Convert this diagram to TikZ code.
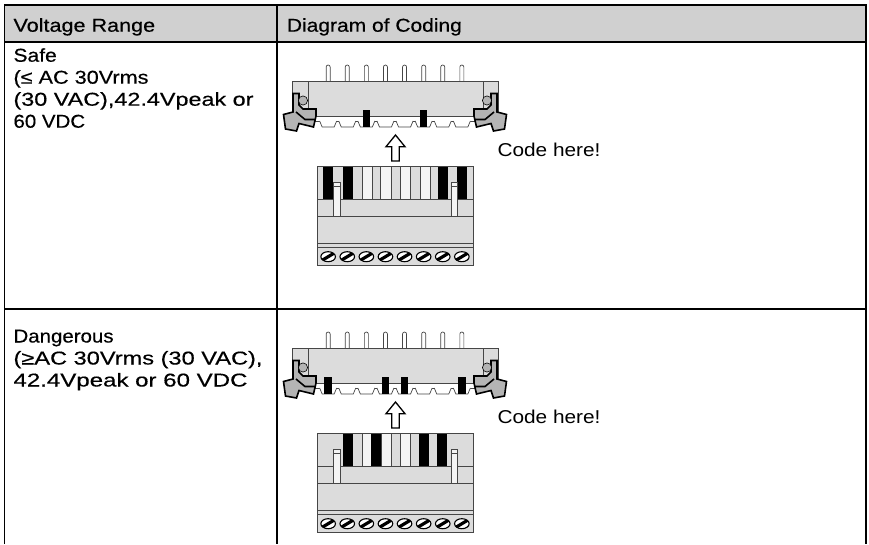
\documentclass[tikz,border=0pt]{standalone}
\usepackage{fontspec}
\usepackage{graphicx}
\setmainfont{Liberation Sans}[FakeStretch=1.1, FakeBold=0.4]
\newfontfamily\codefont{Liberation Sans}[FakeStretch=1.1]
\definecolor{hdr}{RGB}{208,208,208}
\definecolor{bodyc}{RGB}{220,220,220}
\definecolor{latchc}{RGB}{180,180,180}
\definecolor{slotw}{RGB}{244,244,244}
\definecolor{edge}{RGB}{70,70,70}
\newsavebox\fitbox
\newlength\fitlen
\newcommand\fitw[2]{\sbox\fitbox{#2}\setlength\fitlen{\wd\fitbox}\pgfmathsetmacro\fitsc{#1/\fitlen}\scalebox{\fitsc}[1]{\usebox\fitbox}}
\newcommand\latchshape{%
  \draw[fill=latchc, line width=1.6pt] (293,93.5) -- (299,93.5) -- (299,105) -- (303,109) -- (316,109) -- (316,116) -- (313.5,127) -- (299,123.5) -- (296.5,131) -- (285.5,129) -- (283.5,114.5) -- (293,112) -- cycle;
  \draw[line width=1.6pt] (296,112) -- (305,119.5) -- (315,119.5);
  \draw[fill=latchc, line width=0.6pt] (303,100.5) circle[radius=4.6pt];
}
\newcommand\socketbase{%
  \foreach \k in {0,...,7}{
    \pgfmathsetmacro\px{328.15+19.1*\k}
    \draw[edge, fill=white, line width=0.7pt] (\px-2,81.7) -- (\px-2,67) arc[start angle=180, end angle=0, radius=2pt] -- (\px+2,81.7);
  }
  \fill[bodyc] (292.5,81.7) rectangle (498.5,112);
  \draw[edge, line width=0.8pt] (292.5,112) -- (292.5,81.7) -- (498.5,81.7) -- (498.5,112);
  \draw[edge, fill=bodyc, line width=0.8pt] (308,81.7) rectangle (483,116.7);
  \draw[edge, fill=white, line width=0.8pt] (315,116.7) rectangle (476,121);
  \foreach \k in {0,...,7}{
    \pgfmathsetmacro\px{328.15+19.1*\k}
    \draw[edge, fill=white, line width=0.7pt] (\px-8.5,121) -- (\px-6,127) -- (\px+6,127) -- (\px+8.5,121);
  }
}
\newcommand\socketlatches{%
  \latchshape
  \begin{scope}[shift={(790,0)}, xscale=-1]\latchshape\end{scope}
}
\newcommand\codeblock[1]{%
  \pgfmathsetmacro\px{328.15+19.1*#1}
  \fill[black] (\px-3.7,110) rectangle (\px+3.7,127.3);
}
\newcommand\plugbase{%
  \draw[edge, fill=bodyc, line width=0.8pt] (317,166.5) rectangle (473,265);
}
\newcommand\plugrest{%
  \draw[edge, line width=0.8pt] (317,199.5) -- (473,199.5);
  \draw[edge, line width=0.8pt] (317,216) -- (473,216);
  \draw[edge, line width=0.8pt] (317,243) -- (473,243);
  \draw[edge, line width=0.8pt] (317,247.5) -- (473,247.5);
  \draw[edge, fill=slotw, line width=0.7pt] (333.3,182) rectangle (340.7,216);
  \draw[edge, line width=0.7pt] (333.3,186.5) -- (340.7,186.5);
  \draw[edge, fill=slotw, line width=0.7pt] (451,182) rectangle (457.5,216);
  \draw[edge, line width=0.7pt] (451,186.5) -- (457.5,186.5);
  \foreach \k in {0,...,7}{
    \pgfmathsetmacro\px{328.15+19.1*\k}
    \begin{scope}
      \clip (\px,256.7) ellipse[x radius=7.3pt, y radius=5pt];
      \fill[white] (\px-8,250) rectangle (\px+8,263);
      \draw[line width=3.2pt] (\px-8,261.5) -- (\px+8,251.9);
    \end{scope}
    \draw[line width=1.1pt] (\px,256.7) ellipse[x radius=7.3pt, y radius=5pt];
  }
}
\newcommand\blackslot[2]{\fill[black] (#1,166.5) rectangle (#2,199.5);}
\newcommand\whiteslot[2]{\draw[edge, fill=slotw, line width=0.7pt] (#1,166.5) rectangle (#2,199.5);}
\newcommand\plugarrow{%
  \draw[black, fill=white, line width=1.3pt] (395.5,135) -- (405,146.7) -- (399.3,146.7) -- (399.3,161) -- (391.7,161) -- (391.7,146.7) -- (386,146.7) -- cycle;
}
\begin{document}
\begin{tikzpicture}[x=1pt,y=-1pt,
  txt/.style={anchor=base west, inner sep=0pt, font=\fontsize{18.6}{22}\selectfont},
  codetxt/.style={anchor=base west, inner sep=0pt, font=\codefont\fontsize{18.6}{22}\selectfont},
  tline/.style={line width=1.3pt, black}]
\useasboundingbox (0,0) rectangle (869,544);
% table
\fill[hdr] (4.5,5) rectangle (866,42);
\draw[tline] (4.5,544) -- (4.5,5) -- (866,5) -- (866,544);
\draw[tline] (4.5,42) -- (866,42);
\draw[tline] (4.5,309) -- (866,309);
\draw[tline] (277,5) -- (277,544);
% header
\node[txt] (h1) at (13.3,31.7) {\fitw{141.7}{Voltage Range}};
\node[txt] (h2) at (286.7,31.7) {\fitw{175}{Diagram of Coding}};
% row 1 text
\node[txt] (a1) at (13.3,61.7) {\fitw{43.3}{Safe}};
\node[txt] (a2) at (13.3,83.7) {\fitw{135}{(≤ AC 30Vrms}};
\node[txt] (a3) at (13.3,105.7) {\fitw{240}{(30 VAC),42.4Vpeak or}};
\node[txt] (a4) at (13.3,127.7) {60 VDC};
% row 2 text
\node[txt] (b1) at (13.3,342.5) {Dangerous};
\node[txt] (b2) at (13.3,364.5) {\fitw{249}{(≥AC 30Vrms (30 VAC),}};
\node[txt] (b3) at (13.3,386.5) {\fitw{234}{42.4Vpeak or 60 VDC}};
% row 1 diagram
\begin{scope}
  \socketbase
  \codeblock{2}\codeblock{5}
  \socketlatches
  \plugarrow
  \plugbase
  \blackslot{323.3}{333.3}\blackslot{343.3}{353.3}
  \whiteslot{362.7}{372.7}\whiteslot{380.7}{391.7}\whiteslot{400}{410.7}\whiteslot{420}{430}
  \blackslot{438.3}{448.3}\blackslot{457.3}{467.3}
  \plugrest
  \node[codetxt] (c1) at (497.3,156.7) {\fitw{103}{Code here!}};
\end{scope}
% row 2 diagram
\begin{scope}[shift={(0,267)}]
  \socketbase
  \codeblock{0}\codeblock{3}\codeblock{4}\codeblock{7}
  \socketlatches
  \plugarrow
  \plugbase
  \blackslot{343.3}{353.3}
  \whiteslot{362.7}{371}\blackslot{371}{381}\whiteslot{381}{391.7}\whiteslot{400}{410}
  \blackslot{419}{429}\blackslot{437.3}{447.3}
  \plugrest
  \node[codetxt] (c2) at (497.3,156.7) {\fitw{103}{Code here!}};
\end{scope}
\end{tikzpicture}
\end{document}
